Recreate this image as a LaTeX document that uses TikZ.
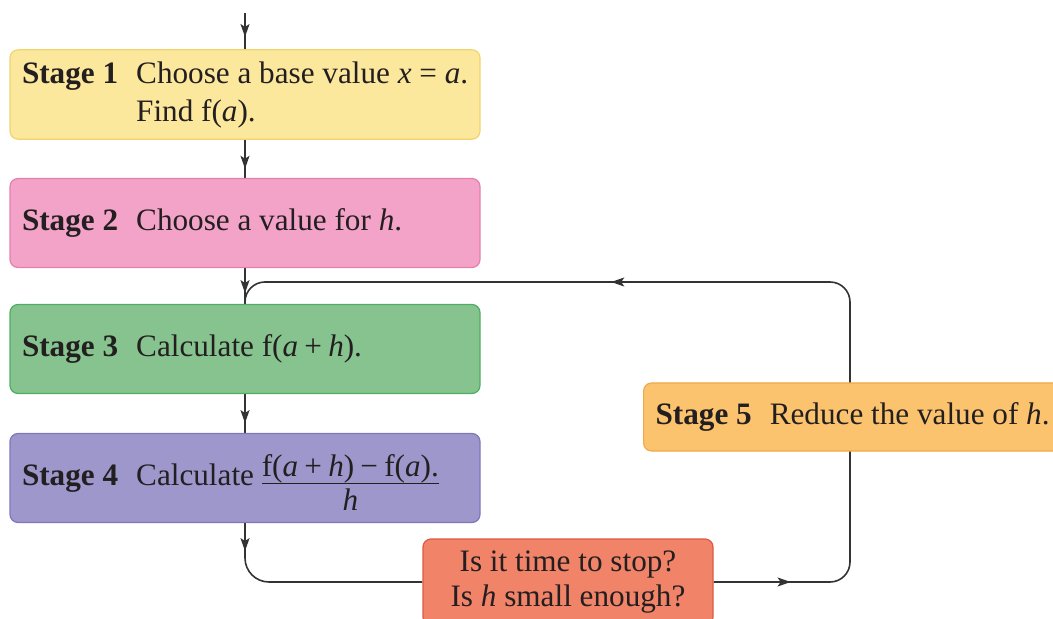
\documentclass[tikz,border=0pt]{standalone}
\usepackage{fontspec}
\setmainfont{Liberation Serif}
\usetikzlibrary{arrows.meta,calc,backgrounds,decorations.markings}
\definecolor{ink}{HTML}{231F20}
\definecolor{flow}{HTML}{333333}
\definecolor{onefill}{HTML}{FCE89C}
\definecolor{oneborder}{HTML}{F1D46E}
\definecolor{twofill}{HTML}{F4A3C8}
\definecolor{twoborder}{HTML}{E47FB0}
\definecolor{threefill}{HTML}{86C38F}
\definecolor{threeborder}{HTML}{4FAE62}
\definecolor{fourfill}{HTML}{9D97CC}
\definecolor{fourborder}{HTML}{7E78BA}
\definecolor{fivefill}{HTML}{FCC36E}
\definecolor{fiveborder}{HTML}{EFA94A}
\definecolor{stopfill}{HTML}{F08368}
\definecolor{stopborder}{HTML}{DC5A44}
\newcommand{\stg}[1]{\textbf{Stage #1}\hspace{9pt}}
\newcommand{\ivar}[1]{\textit{#1}}
\newcommand{\rel}[1]{\hspace{0.25em}#1\hspace{0.25em}}
\newcommand{\bin}[1]{\hspace{0.2em}#1\hspace{0.2em}}
\newcommand{\lline}[2][223pt]{\makebox[#1][l]{#2}}

\begin{document}
\begin{tikzpicture}[x=0.5pt,y=-0.5pt,font=\fontsize{15.6}{19}\selectfont,
  stagebox/.style={draw=#1border,fill=#1fill,rounded corners=4pt,line width=0.6pt,
    inner xsep=6pt,minimum width=235pt,minimum height=44.5pt,text=ink},
  flowline/.style={draw=flow,line width=0.8pt},
  arrowat/.style={postaction={decorate,decoration={markings,
    mark=at position #1 with {\arrow[flow]{Stealth[length=6.5pt,width=4.5pt,inset=1.5pt]}}}}}]
\useasboundingbox (0,0) rectangle (1053,619);
% main column
\node[stagebox=one] (s1) at (245,94.5) {\lline{\begin{tabular}{@{}l@{\hspace{9pt}}l@{}}\textbf{Stage 1}&Choose a base value \ivar{x}\rel{=}\ivar{a}.\\&Find f(\ivar{a}).\end{tabular}}};
\node[stagebox=two] (s2) at (245,223) {\lline{\stg{2}Choose a value for \ivar{h}.}};
\node[stagebox=three] (s3) at (245,349) {\lline{\stg{3}Calculate f(\ivar{a}\bin{+}\ivar{h}).}};
\node[stagebox=four] (s4) at (245,478) {\lline{\stg{4}Calculate \smash{\raisebox{4.3pt}{\setlength{\arrayrulewidth}{0.7pt}\begin{tabular}[t]{@{}c@{}}f(\ivar{a}\bin{+}\ivar{h})\bin{−}f(\ivar{a}).\\[-2.8pt]\hline \ivar{h}\end{tabular}}}}};
% loop
\node[stagebox=five,anchor=west,minimum width=215pt,minimum height=34pt] (s5) at (643,417) {\lline[203pt]{\stg{5}Reduce the value of \ivar{h}.}};
\node[draw=stopborder,fill=stopfill,rounded corners=4pt,line width=0.6pt,text=ink,
  minimum width=145pt,minimum height=43pt,align=center,font=\fontsize{15.6}{17.5}\selectfont] (stop) at (568,582) {Is it time to stop?\\Is \ivar{h} small enough?};
\coordinate (entry) at (245,13);
\coordinate (loopse) at (850,582);
\coordinate (loopne) at (850,282);
\begin{scope}[on background layer]
\draw[flowline,arrowat=12pt] (entry) -- (s1.north);
\draw[flowline,arrowat=14.5pt] (s1.south) -- (s2.north);
\draw[flowline,arrowat=12.5pt] (s2.south) -- (s3.north);
\draw[flowline,arrowat=14.5pt] (s3.south) -- (s4.north);
\draw[flowline,rounded corners=12pt,arrowat=14pt] (s4.south) -- (s4.south |- stop.west) -- (stop.west);
\draw[flowline,rounded corners=10pt,arrowat=38.5pt,arrowat=329pt] (stop.east) -- (loopse) -- (loopne) -- (s3.north |- loopne) -- (s3.north);
\end{scope}
\end{tikzpicture}
\end{document}
